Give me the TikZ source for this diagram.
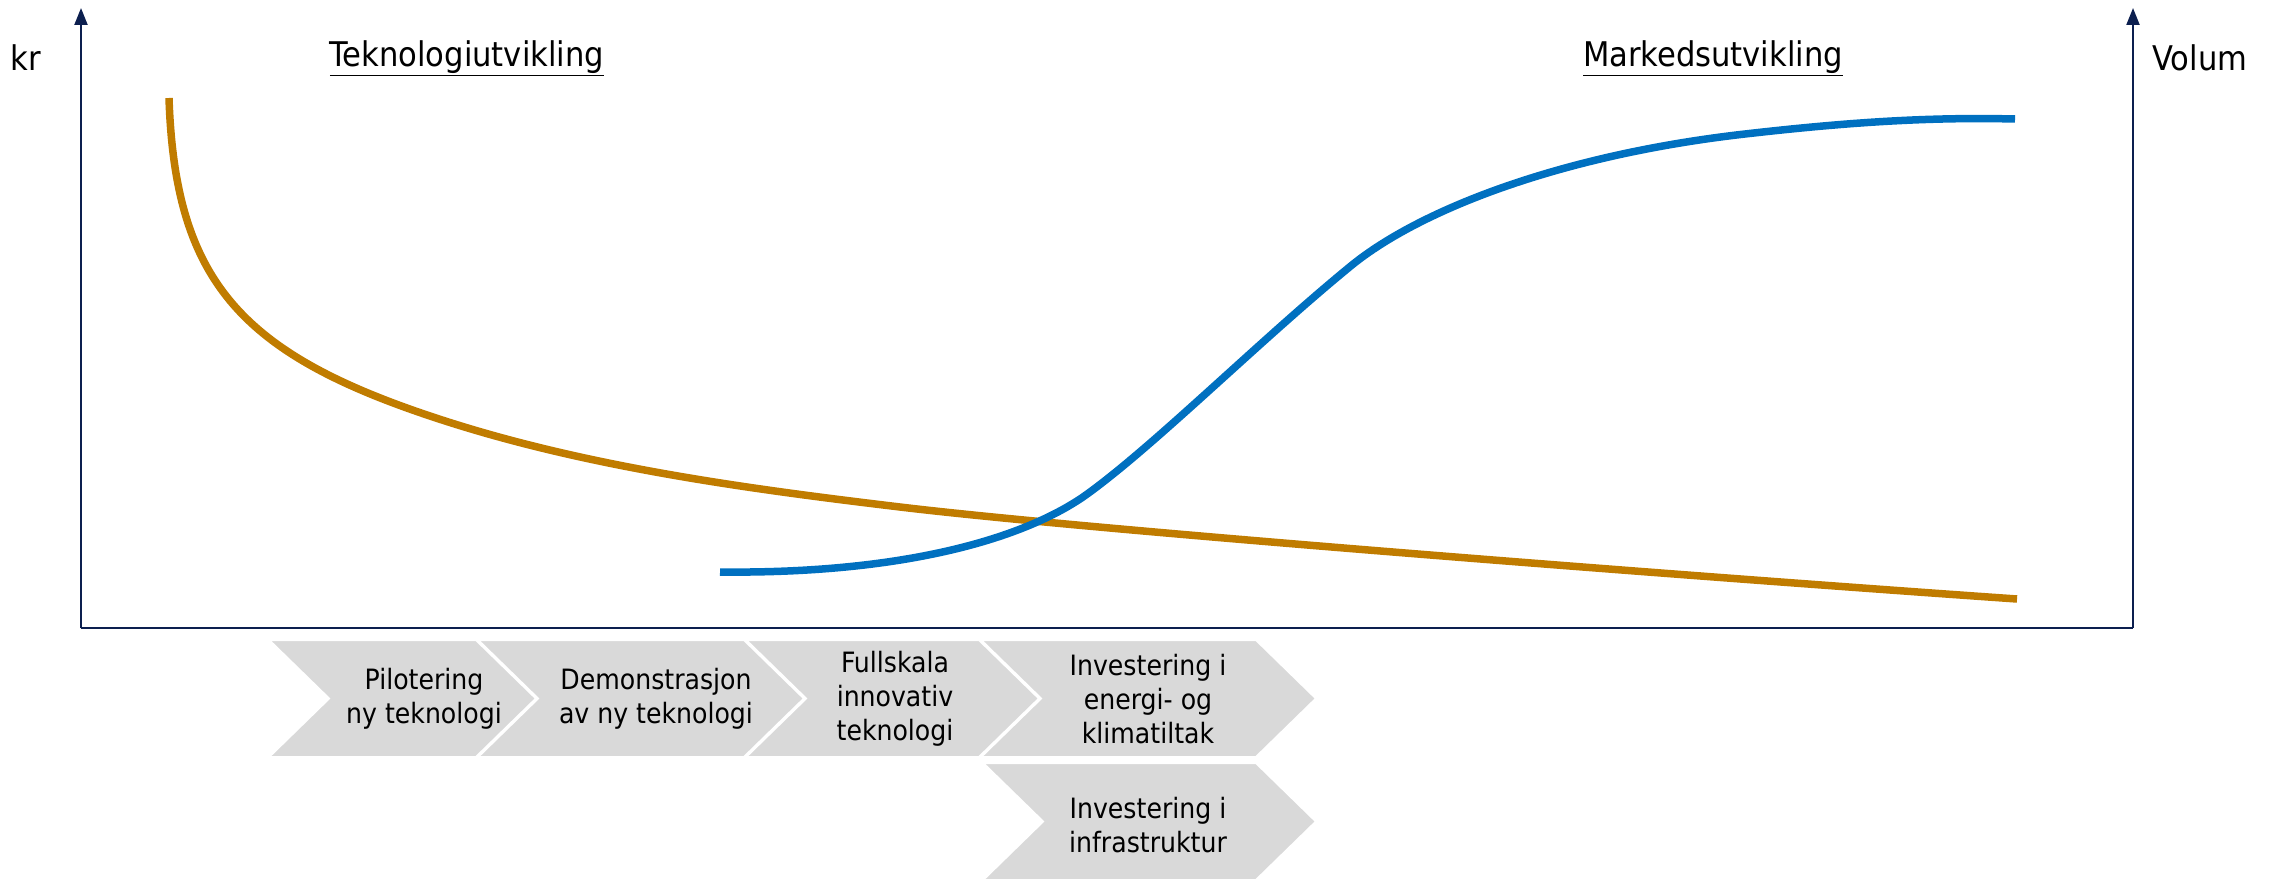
\documentclass[tikz,border=0pt]{standalone}
\usepackage{fontspec}
\setmainfont{DejaVu Sans Condensed}
\usetikzlibrary{arrows.meta}
\definecolor{axisblue}{HTML}{0C1F4F}
\definecolor{costorange}{HTML}{C07C00}
\definecolor{volblue}{HTML}{0070C0}
\definecolor{chevgray}{HTML}{D9D9D9}
\begin{document}
\begin{tikzpicture}[x=1pt,y=-1pt,
  axis/.style={draw=axisblue, line width=2.2pt},
  axtip/.style={-{Triangle[width=13pt,length=17pt]}},
  curveline/.style={line width=7.5pt},
  chev/.style={fill=chevgray, draw=white, line width=2pt, line join=miter},
  chevtext/.style={align=center, font=\fontsize{28}{34}\selectfont, text=black, inner sep=0pt},
  lbl/.style={font=\fontsize{34}{40}\selectfont, inner sep=0pt, text=black}]
\useasboundingbox (0,0) rectangle (2280,880);

% axes
\coordinate (O) at (81,628);
\coordinate (Ytop) at (81,8);
\coordinate (Rb) at (2133,628);
\coordinate (Rtop) at (2133,8);
\draw[axis] (O) -- (Rb);
\draw[axis,axtip] (O) -- (Ytop);
\draw[axis,axtip] (Rb) -- (Rtop);

% axis labels and titles
\node[lbl] (kr) at (26,58) {kr};
\node[lbl] (vol) at (2200,58) {Volum};
\node[lbl] (tek) at (467,58) {\underline{Teknologiutvikling}};
\node[lbl] (mar) at (1713,58) {\underline{Markedsutvikling}};

% curves
\draw[costorange, curveline] (169,98) .. controls (175,280) and (240,353) .. (433,417)
  .. controls (583,467) and (750,489) .. (900,507)
  .. controls (1100,531) and (1700,577) .. (2017,599);
\draw[volblue, curveline] (720,572) .. controls (900,574) and (1020,540) .. (1083,497)
  .. controls (1150,450) and (1260,340) .. (1352,265)
  .. controls (1420,210) and (1560,155) .. (1745,134)
  .. controls (1850,122) and (1930,117) .. (2015,119);

% chevrons
\path[chev] (269,640) -- (476,640) -- (536,698.5) -- (476,757) -- (269,757) -- (329,698.5) -- cycle;
\path[chev] (478,640) -- (744,640) -- (804,698.5) -- (744,757) -- (478,757) -- (538,698.5) -- cycle;
\path[chev] (746,640) -- (979,640) -- (1039,698.5) -- (979,757) -- (746,757) -- (806,698.5) -- cycle;
\path[chev] (981,640) -- (1256,640) -- (1316,698.5) -- (1256,757) -- (981,757) -- (1041,698.5) -- cycle;
\path[chev] (983,763) -- (1256,763) -- (1316,821.5) -- (1256,880) -- (983,880) -- (1043,821.5) -- cycle;

\node[chevtext] (t1) at (424,699) {Pilotering\\ny teknologi};
\node[chevtext] (t2) at (656,699) {Demonstrasjon\\av ny teknologi};
\node[chevtext] (t3) at (895,699) {Fullskala\\innovativ\\teknologi};
\node[chevtext] (t4) at (1148,699) {Investering i\\energi- og\\klimatiltak};
\node[chevtext] (t5) at (1148,825) {Investering i\\infrastruktur};
\end{tikzpicture}
\end{document}
